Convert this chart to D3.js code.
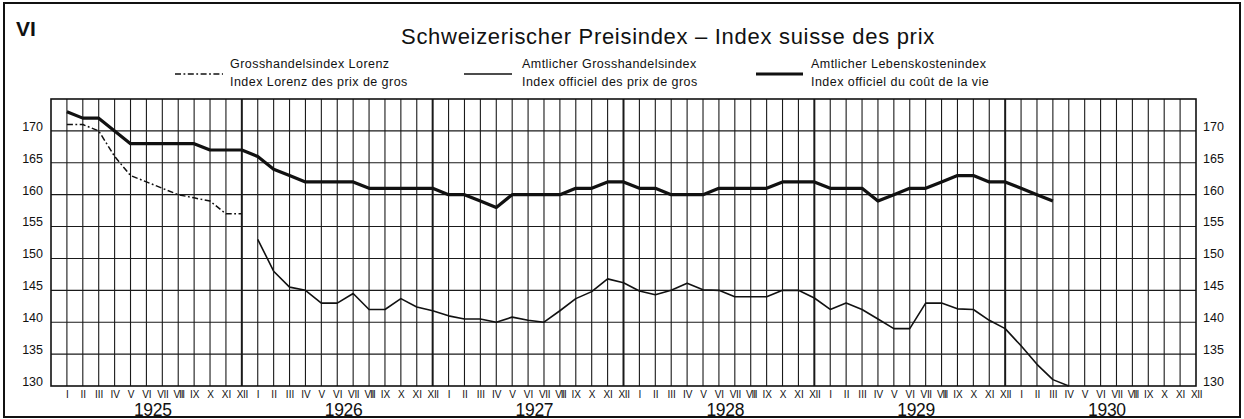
<!DOCTYPE html>
<html>
<head>
<meta charset="utf-8">
<script src="https://cdn.jsdelivr.net/npm/d3@7/dist/d3.min.js"></script>
<style>
  html, body { margin: 0; padding: 0; background: #fff; }
  svg { display: block; }
  text { font-family: "Liberation Sans", Arial, sans-serif; fill: #111; }
</style>
</head>
<body>
<svg id="chart" width="1244" height="419"></svg>
<script>
// ---- data ----
const monthLabels = ["I","II","III","IV","V","VI","VII","VIII","IX","X","XI","XII"];
const years = [1925, 1926, 1927, 1928, 1929, 1930];
const yTicks = [130, 135, 140, 145, 150, 155, 160, 165, 170];

// Amtlicher Lebenskostenindex, Jan 1925 – Mar 1930
const lebenskostenStart = [1925, 1];
const lebenskosten = [
  173, 172, 172, 170, 168, 168, 168, 168, 168, 167, 167, 167,
  166, 164, 163, 162, 162, 162, 162, 161, 161, 161, 161, 161,
  160, 160, 159, 158, 160, 160, 160, 160, 161, 161, 162, 162,
  161, 161, 160, 160, 160, 161, 161, 161, 161, 162, 162, 162,
  161, 161, 161, 159, 160, 161, 161, 162, 163, 163, 162, 162,
  161, 160, 159
];

// Grosshandelsindex Lorenz, Jan 1925 – Dec 1925
const lorenzStart = [1925, 1];
const lorenz = [171, 171, 170, 166, 163, 162, 161, 160, 159.5, 159, 157, 157];

// Amtlicher Grosshandelsindex, Jan 1926 – Apr 1930
const grosshandelStart = [1926, 1];
const grosshandel = [
  153, 148, 145.5, 145, 143, 143, 144.5, 142, 142, 143.7, 142.4, 141.8,
  141, 140.5, 140.5, 140, 140.8, 140.3, 140, 141.8, 143.7, 144.8, 146.8, 146.2,
  144.9, 144.3, 145, 146.1, 145.1, 145, 144, 144, 144, 145, 145, 143.8,
  142, 143, 142, 140.5, 139, 139, 143, 143, 142.1, 142, 140.3, 139,
  136.3, 133.4, 131, 130
];

const titleText = "Schweizerischer Preisindex – Index suisse des prix";
const legendItems = [
  { key: "lorenz", l1: "Grosshandelsindex Lorenz", l2: "Index Lorenz des prix de gros" },
  { key: "gross", l1: "Amtlicher Grosshandelsindex", l2: "Index officiel des prix de gros" },
  { key: "leben", l1: "Amtlicher Lebenskostenindex", l2: "Index officiel du coût de la vie" }
];

// ---- layout ----
const W = 1244, H = 419;
const plot = { left: 51, right: 1196, top: 99, bottom: 386 };
const svg = d3.select("#chart");

const x = d3.scaleLinear().domain([0, 72]).range([plot.left, plot.right]);
const y = d3.scaleLinear().domain([130, 175]).range([plot.bottom, plot.top]);

const styles = {
  leben: { width: 3.2, dash: null },
  gross: { width: 1.6, dash: null },
  lorenz: { width: 1.5, dash: "6,2.5,1.8,2.5" }
};

// outer frame
svg.append("rect").attr("x", 4).attr("y", 3).attr("width", W - 8).attr("height", H - 5)
  .attr("fill", "none").attr("stroke", "#111").attr("stroke-width", 2);

// "VI"
svg.append("text").attr("x", 16).attr("y", 36).attr("font-size", 21)
  .attr("font-weight", "bold").text("VI");

// title
svg.append("text").attr("x", 668).attr("y", 44).attr("text-anchor", "middle")
  .attr("font-size", 22).attr("letter-spacing", "0.7px").text(titleText);

// grid
const g = svg.append("g");
const vks = d3.range(1, 72);
g.selectAll("line.v").data(vks).join("line")
  .attr("x1", d => x(d)).attr("x2", d => x(d))
  .attr("y1", plot.top).attr("y2", plot.bottom)
  .attr("stroke", "#1a1a1a")
  .attr("stroke-width", d => d % 12 === 0 ? 2 : 1.1);
g.selectAll("line.h").data(yTicks.filter(v => v > 130)).join("line")
  .attr("x1", plot.left).attr("x2", plot.right)
  .attr("y1", d => y(d)).attr("y2", d => y(d))
  .attr("stroke", "#1a1a1a").attr("stroke-width", 1.1);
g.append("rect").attr("x", plot.left).attr("y", plot.top)
  .attr("width", plot.right - plot.left).attr("height", plot.bottom - plot.top)
  .attr("fill", "none").attr("stroke", "#111").attr("stroke-width", 1.6);

// y axes
const yl = svg.append("g").attr("transform", `translate(${plot.left},0)`)
  .call(d3.axisLeft(y).tickValues(yTicks).tickSize(0).tickPadding(8).tickFormat(d3.format("d")));
const yr = svg.append("g").attr("transform", `translate(${plot.right},0)`)
  .call(d3.axisRight(y).tickValues(yTicks).tickSize(0).tickPadding(7).tickFormat(d3.format("d")));
[yl, yr].forEach(a => {
  a.select(".domain").remove();
  a.selectAll("text").attr("font-size", 12.5).attr("font-family", null)
    .attr("dy", "-0.05em").style("fill", "#111");
});

// month axis
const xa = svg.append("g").attr("transform", `translate(0,${plot.bottom})`)
  .call(d3.axisBottom(x).tickValues(d3.range(1, 73)).tickSize(0).tickPadding(4.5)
    .tickFormat(k => monthLabels[(k - 1) % 12]));
xa.select(".domain").remove();
xa.selectAll("text").attr("font-size", 10).attr("font-family", null).style("fill", "#111")
  .each(function () {
    const w = this.getComputedTextLength();
    const n = this.textContent.length;
    if (w > 11.5 && n > 1) {
      d3.select(this).attr("letter-spacing", (-(w - 11.5) / (n - 1)).toFixed(2) + "px");
    }
  });

// year labels
svg.selectAll("text.year").data(years).join("text").attr("class", "year")
  .attr("x", d => x((d - 1925) * 12 + 6.4)).attr("y", 415.5)
  .attr("text-anchor", "middle").attr("font-size", 17.5)
  .attr("letter-spacing", "-0.3px")
  .text(d => d);

// series
function toPoints(start, vals) {
  const k0 = (start[0] - 1925) * 12 + start[1];
  return vals.map((v, i) => [k0 + i, v]);
}
const line = d3.line().x(d => x(d[0])).y(d => y(d[1]));
const series = [
  { key: "lorenz", pts: toPoints(lorenzStart, lorenz) },
  { key: "gross", pts: toPoints(grosshandelStart, grosshandel) },
  { key: "leben", pts: toPoints(lebenskostenStart, lebenskosten) }
];
svg.selectAll("path.series").data(series).join("path").attr("class", "series")
  .attr("d", d => line(d.pts))
  .attr("fill", "none").attr("stroke", "#111")
  .attr("stroke-linejoin", "round")
  .attr("stroke-width", d => styles[d.key].width)
  .attr("stroke-dasharray", d => styles[d.key].dash);

// legend
const legendPos = [
  { sx1: 175, sx2: 223, tx: 230 },
  { sx1: 464, sx2: 512, tx: 522 },
  { sx1: 756, sx2: 803, tx: 811 }
];
legendItems.forEach((it, i) => {
  const p = legendPos[i], st = styles[it.key];
  svg.append("line").attr("x1", p.sx1).attr("x2", p.sx2).attr("y1", 74).attr("y2", 74)
    .attr("stroke", "#111").attr("stroke-width", st.width)
    .attr("stroke-dasharray", st.dash);
  svg.append("text").attr("x", p.tx).attr("y", 68).attr("font-size", 12.5)
    .attr("letter-spacing", "0.45px").text(it.l1);
  svg.append("text").attr("x", p.tx).attr("y", 86).attr("font-size", 12.5)
    .attr("letter-spacing", "0.45px").text(it.l2);
});
</script>
</body>
</html>
